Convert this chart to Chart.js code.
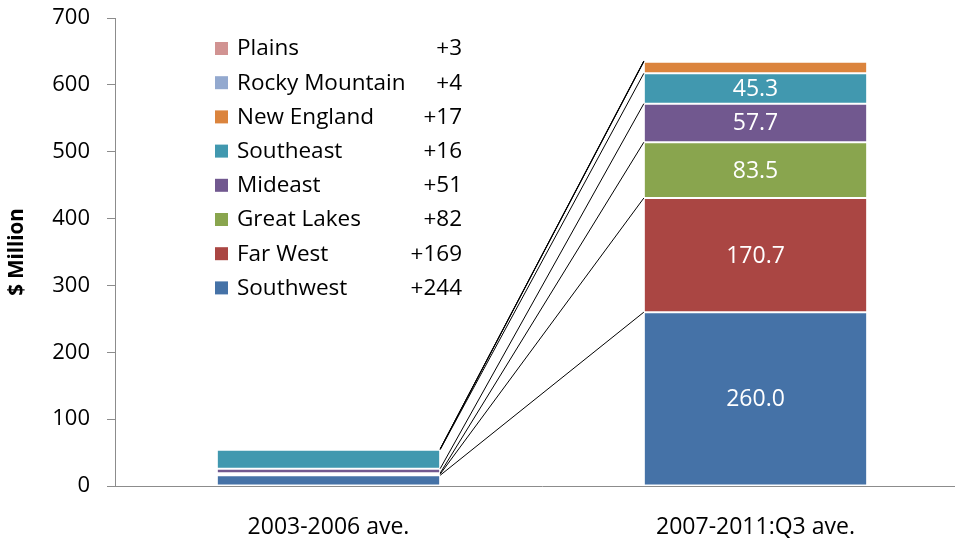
<!DOCTYPE html>
<html>
<head>
<meta charset="utf-8">
<script src="https://cdn.jsdelivr.net/npm/chart.js@4.4.0/dist/chart.umd.min.js"></script>
<style>
  html, body { margin: 0; padding: 0; background: #ffffff; overflow: hidden; }
  #wrap { width: 970px; height: 544px; }
</style>
</head>
<body>
<div id="wrap"><canvas id="c" width="970" height="544"></canvas></div>
<script>
// ---- data ----
const categories = ["2003-2006 ave.", "2007-2011:Q3 ave."];
const regions = ["Southwest", "Far West", "Great Lakes", "Mideast", "Southeast", "New England", "Rocky Mountain", "Plains"];
const southwest    = [16.0, 260.0];
const farWest      = [1.7, 170.7];
const greatLakes   = [1.5, 83.5];
const mideast      = [6.7, 57.7];
const southeast    = [28.5, 45.3];
const newEngland   = [0.5, 17.5];
const rockyMountain = [0.3, 0.6];
const plains       = [0.3, 0.5];
const changeLabels = ["+244", "+169", "+82", "+51", "+16", "+17", "+4", "+3"];
const labelledSeries = [0, 1, 2, 3, 4];   // series with value labels on 2nd bar
const yTicks = [0, 100, 200, 300, 400, 500, 600, 700];

const seriesValues = [southwest, farWest, greatLakes, mideast, southeast, newEngland, rockyMountain, plains];
const colors = ["#4572A7", "#AA4643", "#89A54E", "#71588F", "#4198AF", "#DB843D", "#93A9CF", "#D19392"];

const FONT = "'Open Sans', Lato, sans-serif";

const connectorPlugin = {
  id: "connectors",
  afterDatasetsDraw(chart) {
    const ctx = chart.ctx;
    ctx.save();
    ctx.strokeStyle = "#000000";
    ctx.lineWidth = 1;
    chart.data.datasets.forEach((ds, i) => {
      const meta = chart.getDatasetMeta(i);
      const b0 = meta.data[0], b1 = meta.data[1];
      ctx.beginPath();
      ctx.moveTo(b0.x + b0.width / 2, b0.y);
      ctx.lineTo(b1.x - b1.width / 2, b1.y);
      ctx.stroke();
    });
    // value labels
    ctx.fillStyle = "#ffffff";
    ctx.font = "23px " + FONT;
    ctx.textAlign = "center";
    ctx.textBaseline = "middle";
    labelledSeries.forEach(i => {
      const el = chart.getDatasetMeta(i).data[1];
      const p = el.getCenterPoint();
      ctx.fillText(seriesValues[i][1].toFixed(1), p.x, p.y + 1);
    });
    // legend
    ctx.font = "22.5px " + FONT;
    ctx.textBaseline = "middle";
    const y0 = 48, step = 34.2;
    for (let k = 0; k < regions.length; k++) {
      const i = regions.length - 1 - k;
      const y = y0 + k * step;
      ctx.fillStyle = colors[i];
      ctx.fillRect(215, y - 6, 13, 13);
      ctx.fillStyle = "#000000";
      ctx.textAlign = "left";
      ctx.fillText(regions[i], 237, y + 1);
      ctx.textAlign = "right";
      ctx.fillText(changeLabels[i], 462, y + 1);
    }
    ctx.restore();
  }
};

new Chart(document.getElementById("c"), {
  type: "bar",
  data: {
    labels: categories,
    datasets: regions.map((r, i) => ({
      label: r,
      data: seriesValues[i],
      backgroundColor: colors[i],
      borderColor: "#ffffff",
      borderWidth: 1,
      borderSkipped: false,
      barPercentage: 1,
      categoryPercentage: 0.523
    }))
  },
  options: {
    responsive: false,
    animation: false,
    layout: { padding: { left: 0, right: 1, top: 18, bottom: 0 } },
    plugins: { legend: { display: false }, tooltip: { enabled: false } },
    scales: {
      x: {
        stacked: true,
        grid: { display: true, drawOnChartArea: false, drawTicks: false },
        border: { color: "#8c8c8c", width: 1 },
        ticks: { color: "#000000", font: { family: FONT, size: 23 }, padding: 28 },
        afterFit(scale) { scale.height = 58; scale.paddingLeft = 0; scale.paddingRight = 0; }
      },
      y: {
        stacked: true,
        min: 0, max: 700,
        afterBuildTicks(scale) { scale.ticks = yTicks.map(v => ({ value: v })); },
        grid: { display: true, drawOnChartArea: false, drawTicks: true, tickLength: 8, tickColor: "#8c8c8c" },
        border: { color: "#8c8c8c", width: 1 },
        ticks: { color: "#000000", font: { family: FONT, size: 22 }, padding: 17 },
        title: { display: true, text: "$ Million", color: "#000000", font: { family: FONT, size: 20.5, weight: "bold" }, padding: { top: 5, bottom: 0 } },
        afterFit(scale) { scale.width = 115; scale.paddingTop = 0; scale.paddingBottom = 0; }
      }
    }
  },
  plugins: [connectorPlugin]
});
</script>
</body>
</html>
